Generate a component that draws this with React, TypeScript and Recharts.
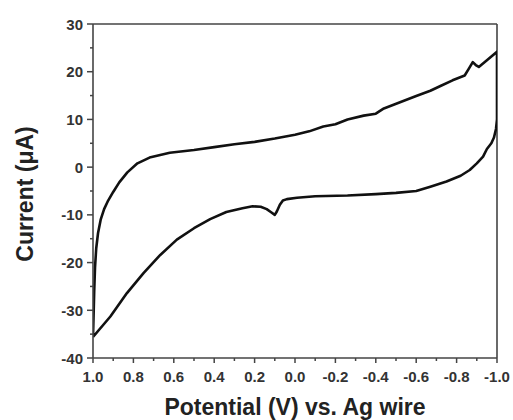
import React from "react";
import {
  LineChart,
  Line,
  XAxis,
  YAxis,
  ReferenceLine,
} from "recharts";

// forward sweep, 1.0 V -> -1.0 V (upper branch)
const forwardPotential = [
  1.0, 0.997, 0.994, 0.99, 0.984, 0.975, 0.962, 0.945, 0.925, 0.9, 0.87, 0.83,
  0.78, 0.72, 0.62, 0.5, 0.4, 0.3, 0.2, 0.1, 0.0, -0.07, -0.14, -0.2, -0.26,
  -0.34, -0.4, -0.44, -0.52, -0.6, -0.67, -0.72, -0.78, -0.84, -0.86, -0.88,
  -0.895, -0.91, -0.95, -1.0,
];
const forwardCurrent = [
  -35.6, -31, -26, -21, -17, -13.8, -11.0, -8.8, -7.0, -5.2, -3.2, -1.1, 0.8,
  2.0, 3.0, 3.6, 4.2, 4.8, 5.3, 6.0, 6.8, 7.5, 8.5, 9.0, 10.0, 10.8, 11.2,
  12.3, 13.6, 14.9, 16.0, 17.0, 18.2, 19.2, 20.6, 22.0, 21.4, 21.0, 22.4, 24.2,
];

// reverse sweep, -1.0 V -> 1.0 V (lower branch)
const reversePotential = [
  -1.0, -1.0, -0.995, -0.985, -0.972, -0.95, -0.931, -0.9, -0.865, -0.82,
  -0.75, -0.67, -0.6, -0.5, -0.4, -0.26, -0.1, -0.01, 0.04, 0.06, 0.075, 0.09,
  0.1, 0.12, 0.14, 0.17, 0.21, 0.26, 0.34, 0.42, 0.5, 0.585, 0.667, 0.75,
  0.832, 0.914, 1.0,
];
const reverseCurrent = [
  24.2, 10.0, 8.0, 6.2, 5.0, 3.8, 2.2, 0.8, -0.6, -1.8, -3.0, -4.1, -5.0, -5.4,
  -5.65, -5.95, -6.1, -6.4, -6.7, -7.0, -7.9, -9.3, -10.0, -9.4, -8.8, -8.3,
  -8.2, -8.6, -9.4, -10.9, -12.8, -15.2, -18.4, -22.2, -26.4, -31.3, -35.6,
];

const xTicks = [
  1.0, 0.9, 0.8, 0.7, 0.6, 0.5, 0.4, 0.3, 0.2, 0.1, 0.0, -0.1, -0.2, -0.3,
  -0.4, -0.5, -0.6, -0.7, -0.8, -0.9, -1.0,
];
const yTicks = [30, 25, 20, 15, 10, 5, 0, -5, -10, -15, -20, -25, -30, -35, -40];

const data = [
  ...forwardPotential.map((v, i) => ({ v, i: forwardCurrent[i] })),
  ...reversePotential.map((v, i) => ({ v, i: reverseCurrent[i] })),
];

const axisColor = "#444";
const font = "'Liberation Sans', Arial, sans-serif";

const XTick = (props: any) => {
  const { x, y, payload } = props;
  const val = payload.value as number;
  const major = Math.round(val * 10) % 2 === 0;
  return (
    <g>
      <line x1={x} x2={x} y1={y} y2={y + (major ? 5 : 3)} stroke={axisColor} strokeWidth={1.5} />
      {major && (
        <text
          x={x}
          y={y + 24}
          textAnchor="middle"
          fontFamily={font}
          fontWeight="bold"
          fontSize={15}
          fill="#333"
        >
          {val.toFixed(1)}
        </text>
      )}
    </g>
  );
};

const YTick = (props: any) => {
  const { x, y, payload } = props;
  const val = payload.value as number;
  const major = val % 10 === 0;
  return (
    <g>
      <line x1={x} x2={x - (major ? 6 : 3)} y1={y} y2={y} stroke={axisColor} strokeWidth={1.5} />
      {major && (
        <text
          x={x - 10}
          y={y + 5.5}
          textAnchor="end"
          fontFamily={font}
          fontWeight="bold"
          fontSize={15}
          fill="#333"
        >
          {val}
        </text>
      )}
    </g>
  );
};

export default function App() {
  return (
    <div style={{ position: "relative", width: 513, height: 420 }}>
      <style>{"body{margin:0;background:#fff}"}</style>
      <LineChart
        width={513}
        height={420}
        data={data}
        margin={{ top: 24, right: 16, left: 0, bottom: 0 }}
      >
        <XAxis
          dataKey="v"
          type="number"
          domain={[-1, 1]}
          reversed
          ticks={xTicks}
          interval={0}
          height={62}
          tickSize={0}
          tickMargin={0}
          tickLine={false}
          tick={<XTick />}
          axisLine={{ stroke: axisColor, strokeWidth: 1.6 }}
          allowDataOverflow
        />
        <YAxis
          type="number"
          domain={[-40, 30]}
          ticks={yTicks}
          interval={0}
          width={93}
          tickSize={0}
          tickMargin={0}
          tickLine={false}
          tick={<YTick />}
          axisLine={{ stroke: axisColor, strokeWidth: 1.6 }}
          allowDataOverflow
        />
        <ReferenceLine y={30} stroke={axisColor} strokeWidth={1.6} />
        <ReferenceLine x={-1} stroke={axisColor} strokeWidth={1.6} />
        <Line
          dataKey="i"
          type="linear"
          stroke="#111"
          strokeWidth={2.6}
          strokeLinejoin="round"
          dot={false}
          isAnimationActive={false}
        />
      </LineChart>
      <div
        style={{
          position: "absolute",
          left: 25,
          top: 194,
          transform: "translate(-50%, -50%) rotate(-90deg)",
          whiteSpace: "nowrap",
          fontFamily: font,
          fontWeight: "bold",
          fontSize: 23,
          color: "#222",
        }}
      >
        Current (μA)
      </div>
      <div
        style={{
          position: "absolute",
          left: 295,
          top: 407,
          transform: "translate(-50%, -50%)",
          whiteSpace: "nowrap",
          fontFamily: font,
          fontWeight: "bold",
          fontSize: 23,
          color: "#222",
        }}
      >
        Potential (V) vs. Ag wire
      </div>
    </div>
  );
}
